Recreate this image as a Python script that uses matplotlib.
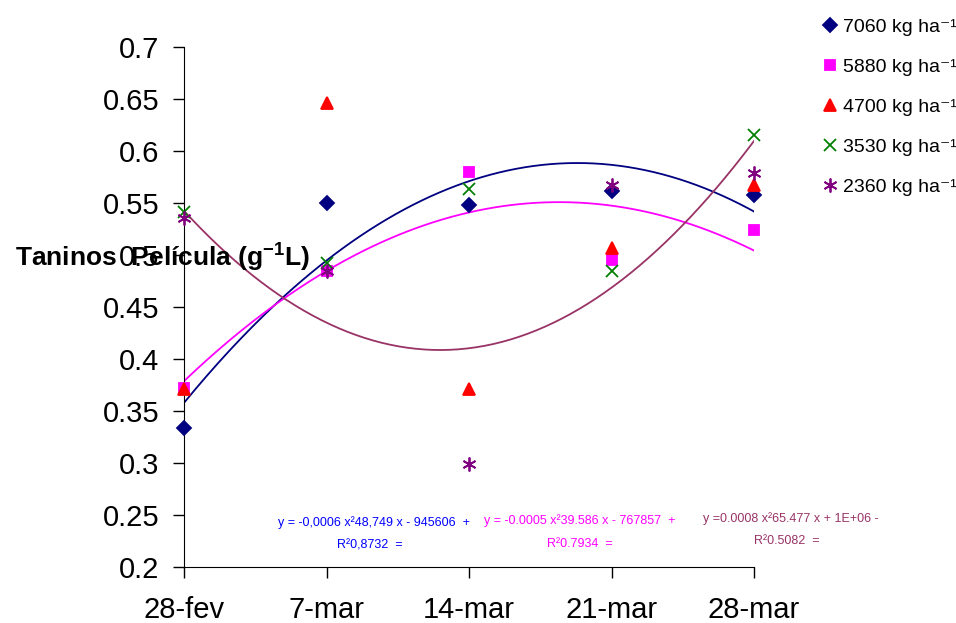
import numpy as np
import matplotlib
import matplotlib.pyplot as plt

plt.rcParams['font.family'] = ['Liberation Sans', 'DejaVu Sans']
plt.rcParams['mathtext.default'] = 'regular'

dates = ['28-fev', '7-mar', '14-mar', '21-mar', '28-mar']
days = [0, 7, 14, 21, 28]

t7060 = [0.334, 0.550, 0.548, 0.562, 0.558]
t5880 = [0.372, 0.485, 0.580, 0.495, 0.524]
t4700 = [0.371, 0.646, 0.371, 0.507, 0.567]
t3530 = [0.541, 0.492, 0.563, 0.485, 0.615]
t2360 = [0.536, 0.485, 0.299, 0.567, 0.579]

series = [
    (t7060, '7060 kg ha⁻¹', 'D', '#000080', 7),
    (t5880, '5880 kg ha⁻¹', 's', '#FF00FF', 7),
    (t4700, '4700 kg ha⁻¹', '^', '#FF0000', 9),
    (t3530, '3530 kg ha⁻¹', 'x', '#008000', 9),
    (t2360, '2360 kg ha⁻¹', (6, 2, 0), '#800080', 10),
]

fig = plt.figure(figsize=(9.56, 6.23), dpi=100)
ax = fig.add_axes([184/956, 1-567/623, (754-184)/956, (567-47)/623])

for vals, lab, mk, col, ms in series:
    ax.plot(days, vals, linestyle='none', marker=mk, color=col, markersize=ms,
            markeredgewidth=1.3, label=lab, clip_on=False, zorder=3)

# quadratic trend lines (Excel style)
xx = np.linspace(0, 28, 200)
for vals, col in [(t7060, '#000080'), (t5880, '#FF00FF'), (t2360, '#993366')]:
    c = np.polyfit(days, vals, 2)
    ax.plot(xx, np.polyval(c, xx), color=col, lw=1.3, zorder=2)

ax.set_xlim(0, 28)
ax.set_ylim(0.2, 0.7)
ax.set_xticks(days)
ax.set_xticklabels(dates)
ax.set_yticks(np.arange(0.2, 0.71, 0.05))
ax.set_yticklabels(['0.2', '0.25', '0.3', '0.35', '0.4', '0.45', '0.5', '0.55', '0.6', '0.65', '0.7'])
ax.tick_params(labelsize=21, length=8, width=1, direction='out')
ax.tick_params(axis='y', pad=10)
ax.tick_params(axis='x', pad=13)
ax.spines['top'].set_visible(False)
ax.spines['right'].set_visible(False)

fig.text(15/956, 1-258/623, 'Taninos  Película (g$^{-1}$L)', fontsize=19,
         fontweight='bold', va='center', ha='left')

# trend line equations
fig.text(374/956, 1-523/623, 'y = -0,0006 x²48,749 x - 945606  +', color='#0000FF',
         fontsize=9, ha='center', va='center')
fig.text(370/956, 1-546/623, 'R²0,8732  =', color='#0000FF', fontsize=9, ha='center', va='center')
fig.text(580/956, 1-521/623, 'y = -0.0005 x²39.586 x - 767857  +', color='#FF00FF',
         fontsize=9, ha='center', va='center')
fig.text(580/956, 1-544/623, 'R²0.7934  =', color='#FF00FF', fontsize=9, ha='center', va='center')
fig.text(791/956, 1-519/623, 'y =0.0008 x²65.477 x + 1E+06 -', color='#993366',
         fontsize=9, ha='center', va='center')
fig.text(787/956, 1-541/623, 'R²0.5082  =', color='#993366', fontsize=9, ha='center', va='center')

fig.legend(loc='upper left', bbox_to_anchor=(809/956, 1-7/623), frameon=False,
           fontsize=14, labelspacing=1.15, handletextpad=0.15, handlelength=1.0,
           borderaxespad=0.2)

fig.savefig('out.png', dpi=100)
